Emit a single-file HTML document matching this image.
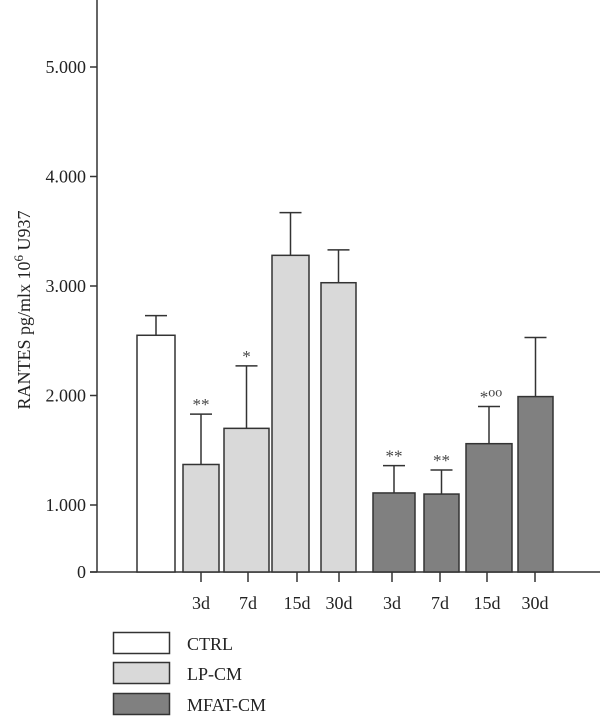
<!DOCTYPE html>
<html><head><meta charset="utf-8"><style>
html,body{margin:0;padding:0;background:#fff;}
svg{display:block;font-family:"Liberation Serif",serif;}
</style></head><body>
<svg id="chart" width="600" height="720" viewBox="0 0 600 720" xmlns="http://www.w3.org/2000/svg">
<g id="axes"></g>
<g id="bars"></g>
<text transform="translate(30,310) rotate(-90)" text-anchor="middle" font-size="18" fill="#222">RANTES pg/mlx 10<tspan dy="-7" font-size="13">6</tspan><tspan dy="7"> U937</tspan></text>
<g>
<rect x="113.5" y="632.5" width="56" height="21" fill="#fff" stroke="#333" stroke-width="1.5"/>
<text x="187" y="650" font-size="18" fill="#222">CTRL</text>
<rect x="113.5" y="662.5" width="56" height="21" fill="#d9d9d9" stroke="#333" stroke-width="1.5"/>
<text x="187" y="680" font-size="18" fill="#222">LP-CM</text>
<rect x="113.5" y="693.5" width="56" height="21" fill="#808080" stroke="#333" stroke-width="1.5"/>
<text x="187" y="711" font-size="18" fill="#222">MFAT-CM</text>
</g>
</svg>
<script>
const categories = ["CTRL","3d","7d","15d","30d","3d","7d","15d","30d"];
const groups = ["CTRL","LP-CM","LP-CM","LP-CM","LP-CM","MFAT-CM","MFAT-CM","MFAT-CM","MFAT-CM"];
const values = [2550,1370,1700,3280,3030,1110,1100,1560,1990];
const errors = [180,460,570,390,300,250,220,340,540];
const marks = ["","**","*","","","**","**","*oo",""];
const yTicks = [0,1000,2000,3000,4000,5000];
const yTickLabels = ["0","1.000","2.000","3.000","4.000","5.000"];

const NS="http://www.w3.org/2000/svg";
const baseY=572, axisX=97;
function y(v){ return v>=1000 ? 505-(v-1000)*0.1095 : baseY-(v/1000)*67; }
const barLeft=[137,183,224,272,321,373,424,466,518];
const barRight=[175,219,269,309,356,415,459,512,553];
const tickX=[null,201,248,297,339,392,440,487,535];
const fills={"CTRL":"#fff","LP-CM":"#d9d9d9","MFAT-CM":"#808080"};
function el(t,a,p){const e=document.createElementNS(NS,t);for(const k in a)e.setAttribute(k,a[k]);p.appendChild(e);return e;}
const ax=document.getElementById('axes'), bg=document.getElementById('bars');
const yl=el('line',{x1:axisX,y1:0,x2:axisX,y2:baseY,stroke:'#333','stroke-width':1.5},ax);


const xl=el('line',{x1:axisX-7,y1:baseY,x2:600,y2:baseY,stroke:'#333','stroke-width':1.5},ax);


yTicks.forEach((t,i)=>{
  const yy=t===0?baseY:y(t);
  const l=el('line',{x1:axisX-7,y1:yy,x2:axisX,y2:yy,stroke:'#333','stroke-width':1.5},ax);
  
  
  const tx=el('text',{x:86,y:yy+6,'text-anchor':'end','font-size':18,fill:'#222'},ax);
  tx.textContent=yTickLabels[i];
  
  
});
categories.forEach((c,i)=>{
  const x0=barLeft[i], x1=barRight[i], cx=(x0+x1)/2, top=y(values[i]), et=y(values[i]+errors[i]);
  const r=el('rect',{x:x0,y:top,width:x1-x0,height:baseY-top,fill:fills[groups[i]],stroke:'#333','stroke-width':1.5},bg);
  
  
  const e1=el('line',{x1:cx,y1:top,x2:cx,y2:et,stroke:'#333','stroke-width':1.5},bg);
  
  
  const e2=el('line',{x1:cx-11,y1:et,x2:cx+11,y2:et,stroke:'#333','stroke-width':1.5},bg);
  
  
  if(marks[i]){
    const m=el('text',{x:cx,y:et-4,'text-anchor':'middle','font-size':17,fill:'#444'},bg);
    if(marks[i]==='*oo'){ m.setAttribute('x',cx+2); m.innerHTML='*<tspan dy="-6" font-size="14">oo</tspan>'; }
    else m.textContent=marks[i];
    
    
  }
  if(tickX[i]!==null){
    const t=el('line',{x1:tickX[i],y1:baseY,x2:tickX[i],y2:baseY+10,stroke:'#333','stroke-width':1.5},ax);
    
    
    const lb=el('text',{x:tickX[i],y:609,'text-anchor':'middle','font-size':18,fill:'#222'},ax);
    lb.textContent=c;
    
    
  }
});
</script>
</body></html>
